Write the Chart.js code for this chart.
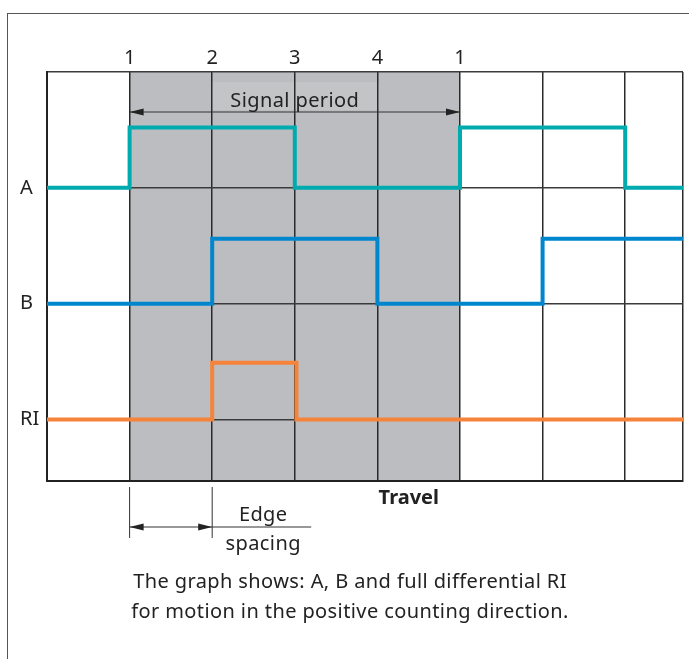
<!DOCTYPE html>
<html>
<head>
<meta charset="utf-8">
<script src="https://cdn.jsdelivr.net/npm/chart.js@4"></script>
<style>
  html, body { margin: 0; padding: 0; background: #fff; }
  body { width: 689px; height: 659px; position: relative; overflow: hidden; font-family: "Noto Sans", sans-serif; }
  #frame { position: absolute; left: 7px; top: 13px; width: 700px; height: 700px; border-left: 1.5px solid #555; border-top: 1.5px solid #555; }
  #chart { position: absolute; left: 0; top: 0; }
  #caption { position: absolute; left: 0; top: 566px; width: 700px; text-align: center; font-size: 20px; letter-spacing: 0.4px; line-height: 30px; color: #222; }
</style>
</head>
<body>
<div id="frame"></div>
<canvas id="chart" width="689" height="659"></canvas>
<div id="caption">The graph shows: A, B and full differential RI<br>for motion in the positive counting direction.</div>
<script>
// grid / axis
const gridX = [0, 1, 2, 3, 4, 5, 6, 7, 7.7];
const gridY = [0, 1, 2, 3];
const rowLabels = ['RI', 'B', 'A', ''];
const topTicks = [1, 2, 3, 4, 5];
const topLabels = ['1', '2', '3', '4', '1'];
const shadeRange = [1, 5];      // one signal period
const edgeRange = [1, 2];       // edge spacing

// signals (value holds until next x)
const aX = [0, 1, 3, 5, 7, 7.7];
const aY = [2, 2.52, 2, 2.52, 2, 2];
const bX = [0, 2, 4, 6, 7.7];
const bY = [1, 1.56, 1, 1.56, 1.56];
const riX = [0, 2, 3.02, 7.7];
const riY = [0, 0.49, 0, 0];

const FONT = '"Noto Sans", sans-serif';
const INK = '#222';

function pts(xs, ys) {
    return xs.map((x, i) => ({ x: x, y: ys[i] }));
}

function arrowHead(ctx, x, y, dir) {
    ctx.beginPath();
    ctx.moveTo(x, y);
    ctx.lineTo(x - dir * 14, y - 3.5);
    ctx.lineTo(x - dir * 14, y + 3.5);
    ctx.closePath();
    ctx.fill();
}

function dimLine(ctx, x1, x2, y) {
    ctx.beginPath();
    ctx.moveTo(x1, y);
    ctx.lineTo(x2, y);
    ctx.stroke();
    arrowHead(ctx, x1, y, -1);
    arrowHead(ctx, x2, y, 1);
}

// grey band behind the grid
const shadePlugin = {
    id: 'shade',
    beforeDraw(chart) {
        const { ctx, chartArea, scales } = chart;
        const x1 = scales.x.getPixelForValue(shadeRange[0]);
        const x2 = scales.x.getPixelForValue(shadeRange[1]);
        ctx.save();
        ctx.fillStyle = '#bcbdc0';
        ctx.fillRect(x1, chartArea.top, x2 - x1, chartArea.bottom - chartArea.top);
        // light box behind the label
        ctx.fillStyle = '#c3c4c6';
        const mid = (x1 + x2) / 2;
        ctx.fillRect(mid - 84, chartArea.top + 10, 168, 28);
        ctx.restore();
    }
};

// arrows and notes
const notesPlugin = {
    id: 'notes',
    afterDraw(chart) {
        const { ctx, chartArea, scales } = chart;
        const sx1 = scales.x.getPixelForValue(shadeRange[0]);
        const sx2 = scales.x.getPixelForValue(shadeRange[1]);
        ctx.save();
        ctx.strokeStyle = '#333';
        ctx.fillStyle = '#222';
        ctx.lineWidth = 1;

        // signal period
        const py = chartArea.top + 40;
        dimLine(ctx, sx1, sx2, py);
        ctx.font = '20px ' + FONT;
        ctx.letterSpacing = '0.4px';
        ctx.textAlign = 'center';
        ctx.textBaseline = 'middle';
        ctx.fillStyle = INK;
        ctx.fillText('Signal period', (sx1 + sx2) / 2, py - 11);

        // edge spacing
        const ex1 = scales.x.getPixelForValue(edgeRange[0]);
        const ex2 = scales.x.getPixelForValue(edgeRange[1]);
        const b = chartArea.bottom;
        ctx.beginPath();
        ctx.moveTo(ex1, b + 6); ctx.lineTo(ex1, b + 57);
        ctx.moveTo(ex2, b + 6); ctx.lineTo(ex2, b + 57);
        ctx.stroke();
        ctx.fillStyle = '#222';
        dimLine(ctx, ex1, ex2, b + 46);
        ctx.beginPath();
        ctx.moveTo(ex2, b + 46);
        ctx.lineTo(ex2 + 99, b + 46);
        ctx.stroke();
        ctx.fillStyle = INK;
        ctx.fillText('Edge', ex2 + 51, b + 34);
        ctx.fillText('spacing', ex2 + 51, b + 63);

        // travel
        ctx.font = 'bold 20px ' + FONT;
        ctx.letterSpacing = '0px';
        ctx.fillText('Travel', scales.x.getPixelForValue(4.38), b + 17);
        ctx.restore();
    }
};

const lineStyle = {
    stepped: true,
    borderWidth: 4,
    pointRadius: 0,
    fill: false,
    borderJoinStyle: 'miter',
    borderCapStyle: 'butt'
};

new Chart(document.getElementById('chart'), {
    type: 'line',
    data: {
        datasets: [
            Object.assign({ label: 'A', data: pts(aX, aY), borderColor: '#00abb0' }, lineStyle),
            Object.assign({ label: 'B', data: pts(bX, bY), borderColor: '#0086cd' }, lineStyle),
            Object.assign({ label: 'RI', data: pts(riX, riY), borderColor: '#f5843a' }, lineStyle)
        ]
    },
    options: {
        responsive: false,
        animation: false,
        events: [],
        layout: { padding: { left: 20, right: 6, top: 0, bottom: 178 } },
        plugins: { legend: { display: false }, tooltip: { enabled: false } },
        scales: {
            x: {
                type: 'linear',
                position: 'bottom',
                min: 0,
                max: 7.7,
                afterBuildTicks: s => { s.ticks = gridX.map(v => ({ value: v })); },
                afterFit: s => { s.height = 0; },
                ticks: { display: false },
                grid: { color: '#2a2a2a', lineWidth: 1.5, drawTicks: false },
                border: { display: true, color: '#222', width: 2 }
            },
            top: {
                type: 'linear',
                position: 'top',
                min: 0,
                max: 7.7,
                afterBuildTicks: s => { s.ticks = topTicks.map(v => ({ value: v })); },
                afterFit: s => { s.height = 72; },
                ticks: {
                    padding: 2,
                    color: INK,
                    font: { family: FONT, size: 20 },
                    callback: (v) => topLabels[topTicks.indexOf(v)]
                },
                grid: { display: false, drawTicks: false },
                border: { display: false }
            },
            y: {
                type: 'linear',
                position: 'left',
                min: -0.53,
                max: 3,
                afterBuildTicks: s => { s.ticks = gridY.map(v => ({ value: v })); },
                afterFit: s => { s.width = 27; },
                ticks: {
                    crossAlign: 'far',
                    padding: 0,
                    color: INK,
                    font: { family: FONT, size: 20 },
                    callback: (v) => rowLabels[gridY.indexOf(v)]
                },
                grid: { color: '#3a3a3a', lineWidth: 1.5, drawTicks: false },
                border: { display: true, color: '#222', width: 2 }
            }
        }
    },
    plugins: [shadePlugin, notesPlugin]
});
</script>
</body>
</html>
